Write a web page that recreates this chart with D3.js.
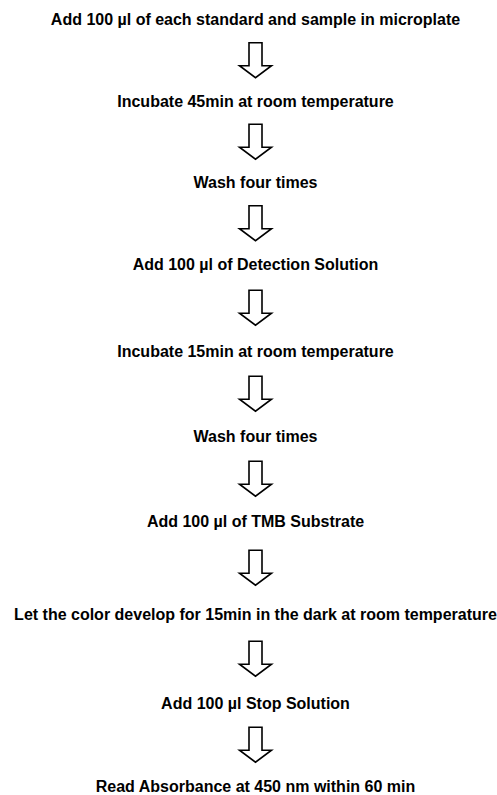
<!DOCTYPE html>
<html>
<head>
<meta charset="utf-8">
<script src="https://cdn.jsdelivr.net/npm/d3@7"></script>
<style>
  html, body { margin: 0; padding: 0; background: #fff; }
  svg { display: block; }
</style>
</head>
<body>
<div id="chart"></div>
<script>
// ---- data ----
const steps = [
  "Add 100 µl of each standard and sample in microplate",
  "Incubate 45min at room temperature",
  "Wash four times",
  "Add 100 µl of Detection Solution",
  "Incubate 15min at room temperature",
  "Wash four times",
  "Add 100 µl of TMB Substrate",
  "Let the color develop for 15min in the dark at room temperature",
  "Add 100 µl Stop Solution",
  "Read Absorbance at 450 nm within 60 min"
];
const stepIndex = steps.map((d, i) => i);

// ---- layout ----
const W = 497, H = 795;
const cx = 255.5;
const fontSize = 16;

const svg = d3.select("#chart").append("svg")
  .attr("width", W).attr("height", H);

// vertical scale: step index -> text baseline
const y = d3.scaleLinear()
  .domain(stepIndex)
  .range([25, 107, 188, 270, 357, 442, 527, 620, 709, 792]);

svg.selectAll("text.step")
  .data(steps)
  .join("text")
  .attr("class", "step")
  .attr("x", cx)
  .attr("y", (d, i) => y(i))
  .attr("text-anchor", "middle")
  .attr("font-family", "'Liberation Sans', Arial, Helvetica, sans-serif")
  .attr("font-weight", "bold")
  .attr("font-size", fontSize)
  .attr("fill", "#000")
  .text(d => d);

// arrows between consecutive steps
const shaftHalf = 6.5, headHalf = 16, shaftLen = 23, headLen = 12;
const arrowPath = (mid) => {
  const top = mid - (shaftLen + headLen) / 2;
  const base = top + shaftLen;
  const tip = base + headLen;
  return `M${cx - shaftHalf},${top}L${cx + shaftHalf},${top}L${cx + shaftHalf},${base}` +
         `L${cx + headHalf},${base}L${cx},${tip}L${cx - headHalf},${base}L${cx - shaftHalf},${base}Z`;
};

svg.selectAll("path.arrow")
  .data(stepIndex.slice(0, -1))
  .join("path")
  .attr("class", "arrow")
  .attr("d", i => arrowPath((y(i) + y(i + 1)) / 2 - fontSize * 0.3 - 1))
  .attr("fill", "#fff")
  .attr("stroke", "#000")
  .attr("stroke-width", 1.6)
  .attr("stroke-linejoin", "miter");
</script>
</body>
</html>
